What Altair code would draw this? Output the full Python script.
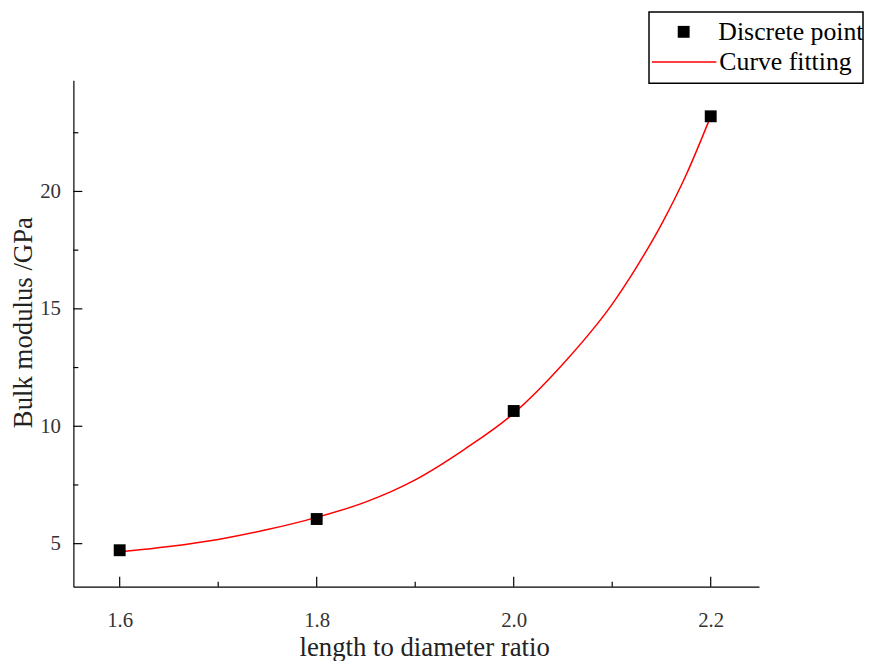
import altair as alt
import pandas as pd

# Measured points
ratio = [1.6, 1.8, 2.0, 2.2]
modulus = [4.72, 6.05, 10.65, 23.2]

# Fitted curve
fit_ratio = [1.60, 1.65, 1.70, 1.75, 1.80, 1.85, 1.90, 1.95, 2.00, 2.05, 2.10, 2.125, 2.15, 2.175, 2.20]
fit_modulus = [4.65, 4.88, 5.18, 5.60, 6.12, 6.78, 7.72, 9.02, 10.55, 12.65, 15.20, 16.80, 18.60, 20.70, 23.20]

x_major = [1.6, 1.8, 2.0, 2.2]
x_minor = [1.7, 1.9, 2.1]
y_major = [5, 10, 15, 20]
y_minor = [7.5, 12.5, 17.5, 22.5]

FONT = "Liberation Serif"
W, H = 692, 511

pts = pd.DataFrame({"ratio": ratio, "modulus": modulus, "series": ["Discrete point"] * len(ratio)})
fit = pd.DataFrame({"ratio": fit_ratio, "modulus": fit_modulus, "series": ["Curve fitting"] * len(fit_ratio)})

xscale = alt.Scale(domain=[1.553, 2.249], nice=False, zero=False)
yscale = alt.Scale(domain=[3.17, 24.73], nice=False, zero=False)

xaxis = alt.Axis(values=x_major, format=".1f", ticks=False, grid=False,
                 domainColor="black", domainWidth=1.2,
                 labelFont=FONT, labelFontSize=21, labelColor="#333333", labelPadding=23,
                 title="length to diameter ratio", titleFont=FONT, titleFontSize=27,
                 titleFontWeight="normal", titleColor="#222222",
                 titleX=354, titleY=62, titleBaseline="middle", titleAlign="center")
yaxis = alt.Axis(values=y_major, format="d", ticks=False, grid=False,
                 domainColor="black", domainWidth=1.2,
                 labelFont=FONT, labelFontSize=21, labelColor="#333333", labelPadding=13,
                 title="Bulk modulus /GPa", titleFont=FONT, titleFontSize=27,
                 titleFontWeight="normal", titleColor="#222222",
                 titleX=-50, titleY=244, titleAngle=270, titleBaseline="middle", titleAlign="center")

X = alt.X("ratio:Q", scale=xscale, axis=xaxis)
Y = alt.Y("modulus:Q", scale=yscale, axis=yaxis)

curve = alt.Chart(fit).mark_line(color="red", strokeWidth=1.5, interpolate="monotone").encode(
    x=X, y=Y,
    color=alt.Color("series:N", scale=alt.Scale(domain=["Curve fitting"], range=["red"]),
                    legend=alt.Legend(orient="none", legendX=583, legendY=-52, title=None,
                                      symbolType="stroke", symbolSize=4225, symbolStrokeWidth=1.5,
                                      symbolStrokeColor="red", labelLimit=0,
                                      labelFont=FONT, labelFontSize=26, labelColor="black",
                                      labelOffset=2, padding=0)),
)

points = alt.Chart(pts).mark_point(filled=True, color="black", size=144, opacity=1).encode(
    x=X, y=Y,
    shape=alt.Shape("series:N", scale=alt.Scale(domain=["Discrete point"], range=["square"]),
                    legend=alt.Legend(orient="none", legendX=603, legendY=-62, title=None,
                                      symbolSize=144, symbolFillColor="black", symbolStrokeWidth=0,
                                      labelLimit=0,
                                      labelFont=FONT, labelFontSize=26, labelColor="black",
                                      labelOffset=22, padding=0)),
)

def xticks(vals, length):
    return alt.Chart(pd.DataFrame({"ratio": vals})).mark_rule(color="black", strokeWidth=1.2).encode(
        x=X, y=alt.value(H), y2=alt.value(H - length))

def yticks(vals, length):
    return alt.Chart(pd.DataFrame({"modulus": vals})).mark_rule(color="black", strokeWidth=1.2).encode(
        y=Y, x=alt.value(0), x2=alt.value(length))

border = alt.Chart(pd.DataFrame({"v": [0]})).mark_rect(filled=False, stroke="black", strokeWidth=1.5).encode(
    x=alt.value(581), x2=alt.value(797), y=alt.value(-69), y2=alt.value(3))

chart = alt.layer(
    curve, points,
    xticks(x_major, 10), xticks(x_minor, 5),
    yticks(y_major, 9), yticks(y_minor, 5),
    border,
).properties(
    width=W, height=H,
    autosize=alt.AutoSizeParams(type="none"),
    padding={"left": 66, "top": 70, "right": 106, "bottom": 72},
    background="white",
).configure_view(stroke=None)

chart.save("out.html", embed_options={"renderer": "svg", "actions": False})
